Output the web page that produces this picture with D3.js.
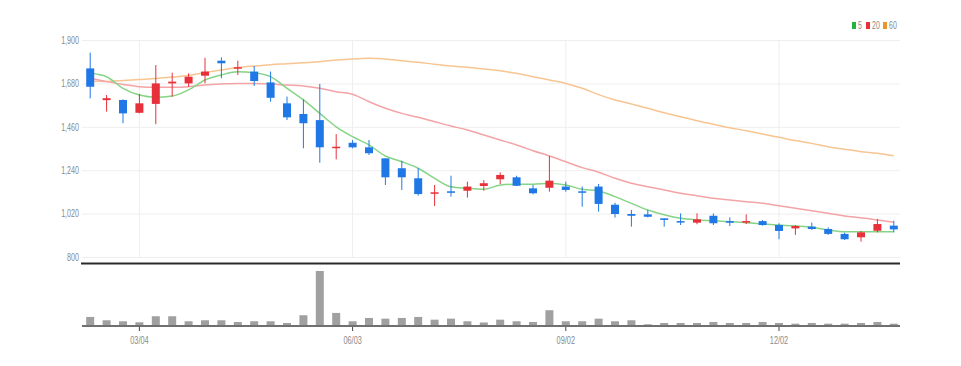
<!DOCTYPE html>
<html>
<head>
<meta charset="utf-8">
<script src="https://cdn.jsdelivr.net/npm/d3@7"></script>
<style>
  body { margin: 0; background: #fff; }
  svg { display: block; }
  text { font-family: "Liberation Sans", "DejaVu Sans", sans-serif; }
</style>
</head>
<body>
<script>
// weekly candles (MM/DD)
var dates = ["02/11","02/18","02/25","03/04","03/11","03/18","03/25","04/01","04/08","04/15",
  "04/22","04/29","05/06","05/13","05/20","05/27","06/03","06/10","06/17","06/24",
  "07/01","07/08","07/15","07/22","07/29","08/05","08/12","08/19","08/26","09/02",
  "09/09","09/16","09/23","09/30","10/07","10/14","10/21","10/28","11/04","11/11",
  "11/18","11/25","12/02","12/09","12/16","12/23","12/30","01/06","01/13","01/20"];

var open  = [1756,1595,1596,1531,1576,1680,1680,1719,1795,1755,1740,1685,1579,1525,1494,1356,1379,1356,1300,1250,
  1199,1123,1133,1136,1160,1194,1204,1148,1151,1157,1133,1157,1065,1018,1016,996,982,974,1009,982,
  976,982,962,945,954,942,917,900,933,959];
var close = [1663,1605,1528,1579,1680,1689,1714,1740,1782,1762,1692,1607,1508,1478,1356,1359,1356,1326,1204,1204,
  1119,1128,1126,1157,1174,1216,1161,1123,1187,1140,1126,1069,1018,1009,1004,988,976,991,971,974,
  982,962,932,957,942,917,890,925,967,940];
var high  = [1836,1621,1599,1626,1773,1734,1731,1810,1812,1795,1768,1740,1613,1599,1677,1423,1393,1393,1300,1288,
  1250,1165,1212,1182,1190,1229,1212,1165,1312,1182,1157,1170,1075,1038,1038,996,1021,1021,1021,1001,
  1016,987,971,962,974,950,923,932,993,984];
var low   = [1604,1537,1478,1528,1473,1613,1663,1680,1706,1723,1667,1587,1494,1351,1278,1295,1351,1317,1165,1140,
  1111,1059,1106,1101,1136,1170,1160,1118,1131,1131,1055,1030,1000,954,1001,954,962,966,962,957,
  967,959,890,912,937,912,886,878,925,925];

var ma5  = [1731,1714,1655,1621,1610,1616,1647,1697,1723,1739,1734,1714,1655,1596,1528,1460,1410,1368,1312,1283,
  1250,1199,1156,1148,1143,1165,1169,1169,1174,1165,1143,1135,1106,1072,1038,1014,996,988,984,979,
  974,967,962,957,951,937,928,928,928,928];
var ma20 = [1706,1689,1675,1663,1660,1660,1663,1672,1677,1680,1680,1677,1672,1667,1655,1638,1625,1587,1554,1528,
  1508,1486,1464,1444,1418,1393,1368,1339,1312,1283,1253,1230,1199,1174,1156,1140,1123,1111,1098,1089,
  1080,1072,1060,1047,1035,1022,1008,999,988,976];
var ma60 = [1692,1690,1695,1700,1705,1712,1720,1735,1748,1760,1768,1775,1780,1785,1790,1798,1804,1807,1804,1795,
  1787,1777,1768,1762,1753,1744,1731,1714,1697,1680,1655,1623,1596,1576,1554,1531,1511,1491,1473,1455,
  1440,1423,1407,1390,1376,1359,1346,1334,1326,1313];

// volume, thousand shares
var volume = [90,57,47,37,97,97,47,57,57,40,47,47,30,107,547,130,47,80,73,80,
  90,63,73,47,35,63,47,40,157,47,47,73,47,57,17,30,30,30,40,30,
  30,40,30,23,30,23,23,30,40,23];

var yTicks = [800,1020,1240,1460,1680,1900];
var xTicks = ["03/04","06/03","09/02","12/02"];
var maNames = ["5","20","60"];
var maColors = ["#86d486","#f4a3a6","#f7c592"];

window.onload = function(){
    drawChart();
};

// squeeze text to look like the condensed font of the original
function narrow(sel, k){
    sel.each(function(){
        var w = this.getComputedTextLength();
        d3.select(this).attr("textLength", w * k).attr("lengthAdjust", "spacingAndGlyphs");
    });
}

function drawChart(){
    var svg = d3.select("body").append("svg").attr("width", 961).attr("height", 366);

    var left = 82, right = 902;
    var x = d3.scaleBand().domain(dates).range([left, right]).padding(0);
    var bw = 8;
    var cx = function(i){ return x(dates[i]) + x.bandwidth() / 2; };

    var y = d3.scaleLinear().domain([800, 1900]).range([257, 40]);
    var yv = d3.scaleLinear().domain([0, d3.max(volume)]).range([326, 271]);

    // grid + y axis
    var gy = svg.append("g")
        .attr("transform", "translate(" + left + ",0)")
        .call(d3.axisLeft(y).tickValues(yTicks).tickFormat(d3.format(",")).tickSize(-(900 - left)).tickPadding(3));
    gy.select(".domain").remove();
    gy.selectAll(".tick line").attr("stroke", "#eeeeee");
    gy.selectAll(".tick text").attr("fill", "#8a8a8a").style("font-size", "10.5px").call(narrow, 0.68);

    // vertical grid at x ticks
    svg.append("g").selectAll("line")
        .data(xTicks)
        .enter()
        .append("line")
        .attr("x1", function(d){ return x(d) + x.bandwidth() / 2; })
        .attr("x2", function(d){ return x(d) + x.bandwidth() / 2; })
        .attr("y1", 40).attr("y2", 257)
        .attr("stroke", "#eeeeee");

    // moving averages
    var lines = [ma5, ma20, ma60];
    var lineGen = d3.line()
        .x(function(d, i){ return cx(i); })
        .y(function(d){ return y(d); })
        .curve(d3.curveMonotoneX);
    svg.append("g").selectAll("path")
        .data(lines.slice().reverse())
        .enter()
        .append("path")
        .attr("d", lineGen)
        .attr("fill", "none")
        .attr("stroke-width", 1.5)
        .attr("stroke", function(d, k){ return maColors[2 - k]; });

    // candles
    var idx = d3.range(dates.length);
    var colorOf = function(i){ return close[i] >= open[i] ? "#e8303a" : "#1f78e6"; };
    var cg = svg.append("g").selectAll("g")
        .data(idx)
        .enter()
        .append("g");
    cg.append("line")
        .attr("x1", function(i){ return cx(i); })
        .attr("x2", function(i){ return cx(i); })
        .attr("y1", function(i){ return y(high[i]); })
        .attr("y2", function(i){ return y(low[i]); })
        .attr("stroke", colorOf)
        .attr("stroke-width", 1);
    cg.append("rect")
        .attr("x", function(i){ return cx(i) - bw / 2; })
        .attr("width", bw)
        .attr("y", function(i){ return y(Math.max(open[i], close[i])); })
        .attr("height", function(i){ return Math.max(1.5, Math.abs(y(open[i]) - y(close[i]))); })
        .attr("fill", colorOf);

    // separator
    svg.append("line")
        .attr("x1", 81).attr("x2", 900)
        .attr("y1", 263.5).attr("y2", 263.5)
        .attr("stroke", "#2a2a2a").attr("stroke-width", 2);

    // volume bars
    svg.append("g").selectAll("rect")
        .data(idx)
        .enter()
        .append("rect")
        .attr("x", function(i){ return cx(i) - bw / 2; })
        .attr("width", bw)
        .attr("y", function(i){ return yv(volume[i]); })
        .attr("height", function(i){ return 326 - yv(volume[i]); })
        .attr("fill", "#a0a0a0");

    // x axis (volume baseline)
    var gx = svg.append("g")
        .attr("transform", "translate(0,326)")
        .call(d3.axisBottom(x).tickValues(xTicks).tickSize(5).tickPadding(6));
    gx.select(".domain").remove();
    gx.selectAll(".tick line").attr("stroke", "#444");
    gx.selectAll(".tick text").attr("fill", "#8a8a8a").style("font-size", "10.5px").call(narrow, 0.7);
    svg.append("line")
        .attr("x1", 82).attr("x2", 900)
        .attr("y1", 326).attr("y2", 326)
        .attr("stroke", "#707070").attr("stroke-width", 2);

    // legend
    var lg = svg.append("g").selectAll("g")
        .data(maNames)
        .enter()
        .append("g")
        .attr("transform", function(d, k){ return "translate(" + [852, 866, 883][k] + ",0)"; });
    lg.append("rect")
        .attr("x", 0).attr("y", 22).attr("width", 4).attr("height", 7)
        .attr("fill", function(d, k){ return ["#22b43c", "#e8303a", "#f0922a"][k]; });
    lg.append("text")
        .attr("x", 6).attr("y", 29)
        .attr("fill", "#8a8a8a")
        .style("font-size", "10px")
        .text(function(d){ return d; })
        .call(narrow, 0.7);
}
</script>
</body>
</html>
